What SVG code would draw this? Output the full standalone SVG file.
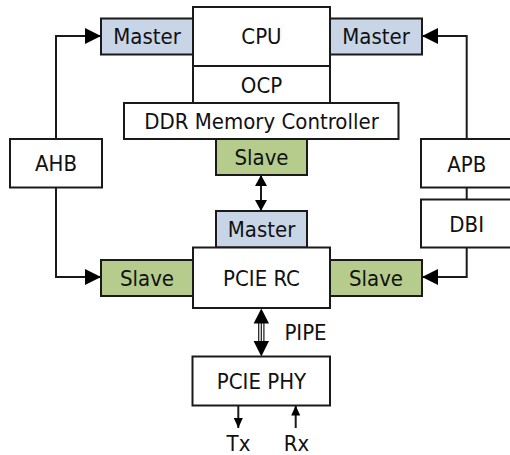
<svg xmlns="http://www.w3.org/2000/svg" width="510" height="455" viewBox="0 0 510 455">
  <style>
    .box { fill: #ffffff; stroke: #1a1a1a; stroke-width: 2; }
    .mst { fill: #c8d5e6; stroke: #1a1a1a; stroke-width: 2; }
    .slv { fill: #b5cc8c; stroke: #1a1a1a; stroke-width: 2; }
    .lbl { font-family: "DejaVu Sans Condensed", "DejaVu Sans", "Liberation Sans", sans-serif; font-stretch: condensed; font-size: 22px; fill: #111111; text-anchor: middle; }
    .wire { fill: none; stroke: #1a1a1a; stroke-width: 2; }
    .thin { fill: none; stroke: #1a1a1a; stroke-width: 1.2; }
  </style>
  <defs>
    <marker id="head" markerUnits="userSpaceOnUse" markerWidth="16" markerHeight="16" refX="16" refY="8" orient="auto">
      <path d="M0,0 L16,8 L0,16 Z" fill="#000000"/>
    </marker>
    <marker id="headS" markerUnits="userSpaceOnUse" markerWidth="11" markerHeight="12" refX="11" refY="6" orient="auto-start-reverse">
      <path d="M0,0 L11,6 L0,12 Z" fill="#000000"/>
    </marker>
    <marker id="headT" markerUnits="userSpaceOnUse" markerWidth="10" markerHeight="9" refX="10" refY="4.5" orient="auto">
      <path d="M0,0 L10,4.5 L0,9 Z" fill="#000000"/>
    </marker>
  </defs>

  <!-- connectors -->
  <g id="connectors">
    <!-- AHB to CPU master and PCIE RC slave -->
    <path class="wire" d="M56,139 V36 H101" marker-end="url(#head)"/>
    <path class="wire" d="M56,187 V277 H101" marker-end="url(#head)"/>
    <!-- APB to CPU master, APB to DBI, DBI to PCIE RC slave -->
    <path class="wire" d="M466.7,139 V36 H422" marker-end="url(#head)"/>
    <path class="wire" d="M466.7,187.5 V199.5"/>
    <path class="wire" d="M466.7,247.5 V277 H422" marker-end="url(#head)"/>
    <!-- DDR slave to PCIE master -->
    <path class="wire" d="M261,175 V211" marker-start="url(#headS)" marker-end="url(#headS)"/>
    <!-- PIPE bundle -->
    <g id="pipe">
      <path class="thin" d="M258.7,320 V344 M261.3,320 V344 M263.9,320 V344"/>
      <path d="M261.3,308.5 L269,323.5 L253.6,323.5 Z" fill="#000000"/>
      <path d="M261.3,356.5 L269,341 L253.6,341 Z" fill="#000000"/>
    </g>
    <!-- Tx / Rx -->
    <path class="wire" d="M238.3,405.5 V428" marker-end="url(#headT)"/>
    <path class="wire" d="M295.7,428 V405.5" marker-end="url(#headT)"/>
  </g>

  <!-- nodes -->
  <g id="cpu">
    <rect class="box" x="193" y="7" width="137" height="59"/>
    <text class="lbl" x="261.5" y="44">CPU</text>
  </g>
  <g id="cpu-master-left">
    <rect class="mst" x="101" y="18.5" width="92" height="36"/>
    <text class="lbl" x="147" y="44">Master</text>
  </g>
  <g id="cpu-master-right">
    <rect class="mst" x="330" y="18.5" width="92" height="36"/>
    <text class="lbl" x="376" y="44">Master</text>
  </g>
  <g id="ocp">
    <rect class="box" x="193" y="66" width="137" height="37"/>
    <text class="lbl" x="261.5" y="92.5">OCP</text>
  </g>
  <g id="ddr">
    <rect class="box" x="124" y="103" width="274.5" height="36"/>
    <text class="lbl" x="261.5" y="128.5">DDR Memory Controller</text>
  </g>
  <g id="ddr-slave">
    <rect class="slv" x="216" y="139" width="91" height="36"/>
    <text class="lbl" x="261.5" y="165">Slave</text>
  </g>
  <g id="ahb">
    <rect class="box" x="10" y="139" width="92" height="48.5"/>
    <text class="lbl" x="56" y="171">AHB</text>
  </g>
  <g id="apb">
    <rect class="box" x="421" y="139" width="92" height="48.5"/>
    <text class="lbl" x="466.7" y="171.5">APB</text>
  </g>
  <g id="dbi">
    <rect class="box" x="421" y="199.5" width="92" height="48"/>
    <text class="lbl" x="466.7" y="231.5">DBI</text>
  </g>
  <g id="pcie-master">
    <rect class="mst" x="216" y="211" width="91" height="36.5"/>
    <text class="lbl" x="261.5" y="237">Master</text>
  </g>
  <g id="pcie-rc">
    <rect class="box" x="193" y="247.5" width="137" height="60.5"/>
    <text class="lbl" x="261.5" y="285.5">PCIE RC</text>
  </g>
  <g id="pcie-slave-left">
    <rect class="slv" x="101" y="260" width="92" height="36"/>
    <text class="lbl" x="147" y="285.5">Slave</text>
  </g>
  <g id="pcie-slave-right">
    <rect class="slv" x="330" y="260" width="92" height="36"/>
    <text class="lbl" x="376" y="285.5">Slave</text>
  </g>
  <g id="pcie-phy">
    <rect class="box" x="192.5" y="356.5" width="137.5" height="49"/>
    <text class="lbl" x="261.5" y="388.5">PCIE PHY</text>
  </g>
  <text class="lbl" x="305.5" y="340">PIPE</text>
  <text class="lbl" x="238.5" y="451">Tx</text>
  <text class="lbl" x="296.5" y="451">Rx</text>
</svg>
